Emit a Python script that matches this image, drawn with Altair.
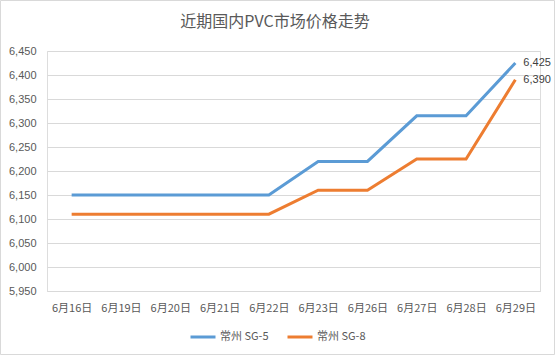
import altair as alt
import pandas as pd

title_text = "近期国内PVC市场价格走势"
dates = ["6月16日", "6月19日", "6月20日", "6月21日", "6月22日",
         "6月23日", "6月26日", "6月27日", "6月28日", "6月29日"]
sg5 = [6150, 6150, 6150, 6150, 6150, 6220, 6220, 6315, 6315, 6425]
sg8 = [6110, 6110, 6110, 6110, 6110, 6160, 6160, 6225, 6225, 6390]
series = ["常州 SG-5", "常州 SG-8"]
colors = ["#5B9BD5", "#ED7D31"]
y_ticks = list(range(5950, 6451, 50))

rows = []
for name, vals in zip(series, [sg5, sg8]):
    for d, v in zip(dates, vals):
        rows.append({"date": d, "value": v, "series": name})
df = pd.DataFrame(rows)
df["is_last"] = df["date"] == dates[-1]

CJK = "Noto Sans CJK SC"
GRAY = "#595959"

x = alt.X("date:N", sort=dates, title=None,
          scale=alt.Scale(type="point", padding=0.5),
          axis=alt.Axis(labelAngle=0, labelFont=CJK, labelFontSize=11,
                        labelColor=GRAY, ticks=False, domain=True,
                        domainColor="#d9d9d9", labelPadding=11, grid=False))
y = alt.Y("value:Q", title=None,
          scale=alt.Scale(domain=[5950, 6450], nice=False, zero=False),
          axis=alt.Axis(values=y_ticks, format=",.0f", labelFont="Liberation Sans",
                        labelFontSize=11, labelColor=GRAY, ticks=False,
                        domain=False, gridColor="#d9d9d9", labelPadding=11))
color = alt.Color("series:N", scale=alt.Scale(domain=series, range=colors),
                  legend=alt.Legend(title=None, orient="none", direction="horizontal",
                                    legendX=142, legendY=272,
                                    symbolType="stroke", symbolSize=625,
                                    symbolStrokeWidth=3, labelFont=CJK,
                                    labelFontSize=11, labelColor=GRAY,
                                    columnPadding=12, labelOffset=3))

base = alt.Chart(df).encode(x=x, y=y)
lines = base.mark_line(strokeWidth=3).encode(color=color)
labels = base.mark_text(align="left", baseline="middle", dx=8,
                        font="Liberation Sans", fontSize=11,
                        color="#404040").encode(
    text=alt.Text("value:Q", format=",.0f")).transform_filter("datum.is_last")

one = pd.DataFrame({"t": [title_text]})
border = alt.Chart(one).mark_rect(
    fill=None, stroke="#d9d9d9", strokeWidth=1).encode(
    x=alt.value(-46.5), x2=alt.value(507.5), y=alt.value(-50.5), y2=alt.value(303.5))
title = alt.Chart(one).mark_text(font=CJK, fontSize=16, color=GRAY,
                                 align="center", baseline="middle").encode(
    x=alt.value(228), y=alt.value(-29), text="t:N")

chart = alt.layer(border, title, lines, labels).properties(
    width=493, height=240,
    padding={"left": 47, "top": 51, "right": 15, "bottom": 64},
    autosize=alt.AutoSizeParams(type="none")
).configure_view(stroke=None).configure(background="white")

chart.save("out.html", embed_options={"renderer": "svg", "actions": False})
